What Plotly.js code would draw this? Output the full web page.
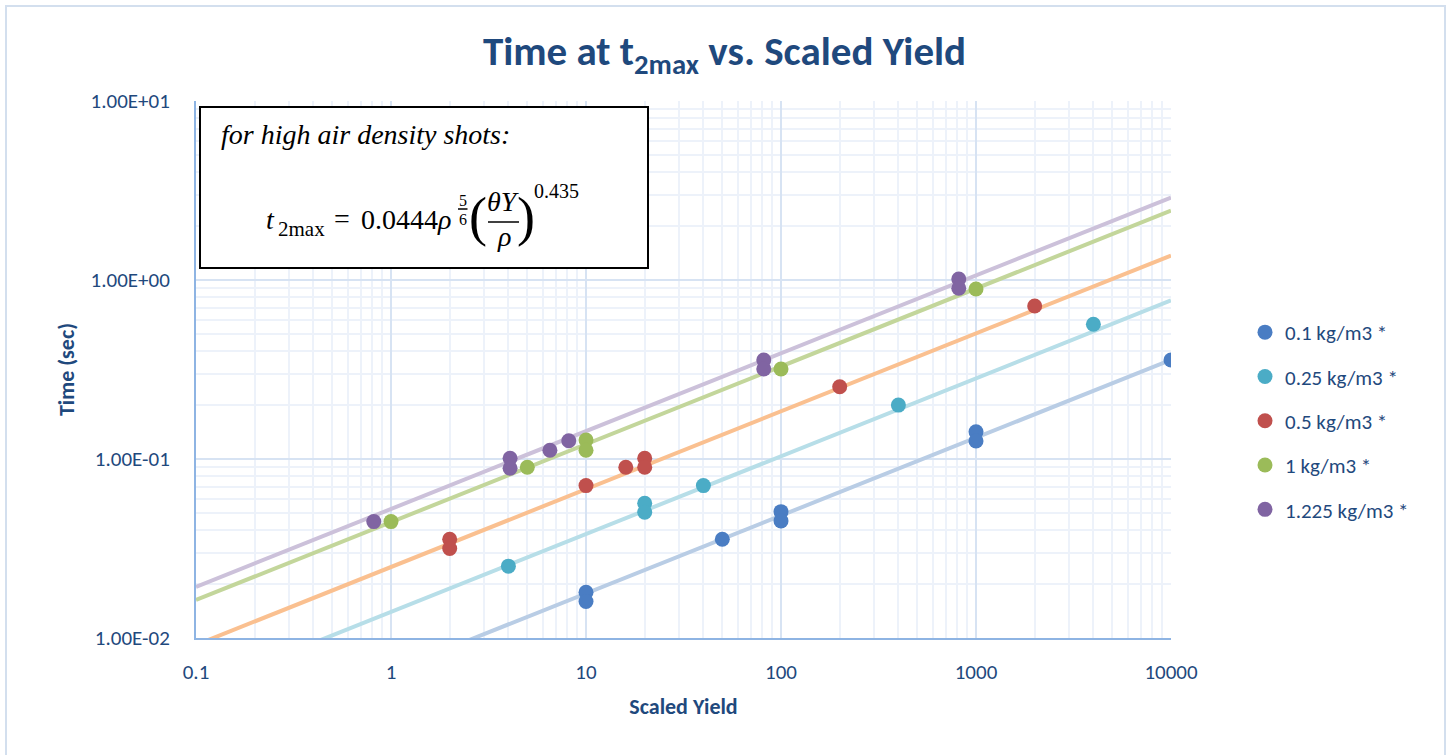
<!DOCTYPE html>
<html>
<head>
<meta charset="utf-8">
<script src="https://cdn.plot.ly/plotly-3.0.1.min.js"></script>
<style>
  html, body { margin: 0; padding: 0; background: #ffffff; }
  #chart { width: 1449px; height: 755px; }
</style>
</head>
<body>
<div id="chart"></div>
<script>
// ---------------- data ----------------
const seriesNames = ['0.1 kg/m3 *', '0.25 kg/m3 *', '0.5 kg/m3 *', '1 kg/m3 *', '1.225 kg/m3 *'];
const densities   = [0.1, 0.25, 0.5, 1, 1.225];

const yield_01   = [10, 10, 50, 100, 100, 1000, 1000, 10000];
const time_01    = [0.018, 0.016, 0.0356, 0.0508, 0.0451, 0.142, 0.126, 0.357];

const yield_025  = [4, 20, 20, 40, 400, 4000];
const time_025   = [0.0252, 0.0566, 0.0504, 0.071, 0.2, 0.566];

const yield_05   = [2, 2, 10, 16, 20, 20, 200, 2000];
const time_05    = [0.0356, 0.0316, 0.071, 0.0899, 0.101, 0.0899, 0.2535, 0.716];

const yield_1    = [1, 5, 10, 10, 100, 1000];
const time_1     = [0.0447, 0.0899, 0.1277, 0.112, 0.318, 0.891];

const yield_1225 = [0.816, 4.08, 4.08, 6.53, 8.16, 81.6, 81.6, 816, 816];
const time_1225  = [0.0447, 0.101, 0.0887, 0.112, 0.1265, 0.357, 0.318, 1.013, 0.90];

// trend-line model printed in the chart: t = 0.0444 * rho^(5/6) * X^0.435
const fitCoef = 0.0444;
const fitDensityExp = 5 / 6;
const fitYieldExp = 0.435;
const fitRange = [0.1, 10000];

const xTickVals = [0.1, 1, 10, 100, 1000, 10000];
const xTickText = ['0.1', '1', '10', '100', '1000', '10000'];
const yTickVals = [0.01, 0.1, 1, 10];
const yTickText = ['1.00E-02', '1.00E-01', '1.00E+00', '1.00E+01'];

// ---------------- styles ----------------
const markerColors = ['#4A7DC3', '#4BACC6', '#C0504D', '#9BBB59', '#8064A2'];
const lineColors   = ['#B9CDE5', '#B7DEE8', '#FAC090', '#C3D69B', '#CCC1DA'];
const textColor = '#1F497D';
const FONT = 'Carlito, Lato, "Open Sans", sans-serif';
const SERIF = '"Liberation Serif", "DejaVu Serif", serif';

const xs = [yield_01, yield_025, yield_05, yield_1, yield_1225];
const ys = [time_01, time_025, time_05, time_1, time_1225];

const traces = [];
// trend lines first (drawn beneath the markers)
densities.forEach((rho, i) => {
  traces.push({
    type: 'scatter', mode: 'lines',
    x: fitRange.slice(),
    y: fitRange.map(X => fitCoef * Math.pow(rho, fitDensityExp) * Math.pow(X, fitYieldExp)),
    line: { color: lineColors[i], width: 4 },
    showlegend: false, hoverinfo: 'skip'
  });
});
densities.forEach((rho, i) => {
  traces.push({
    type: 'scatter', mode: 'markers',
    name: seriesNames[i],
    legendgroup: 'g' + i,
    x: xs[i], y: ys[i],
    marker: { color: markerColors[i], size: 15, line: { width: 0 } }
  });
});

// minor gridline positions (2..9 in every decade)
function minorVals(lo, hi) {
  const out = [];
  for (let e = lo; e < hi; e++) for (let m = 2; m <= 9; m++) out.push(m * Math.pow(10, e));
  return out;
}

// pixel -> paper helpers for the annotation box
const PL = 196, PR = 1171, PT = 101, PB = 638;
const px = v => (v - PL) / (PR - PL);
const py = v => (PB - v) / (PB - PT);

function txt(text, x, y, size, opts) {
  return Object.assign({
    text: text, xref: 'paper', yref: 'paper', x: px(x), y: py(y),
    xanchor: 'left', yanchor: 'middle', showarrow: false,
    font: { family: SERIF, size: size, color: '#000000' }
  }, opts || {});
}

const annotations = [
  txt('<i>for high air density shots:</i>', 219, 134, 28),
  txt('<i>t</i>', 264, 219, 28),
  txt('2max', 276, 229, 21),
  txt('=', 332, 218, 28),
  txt('0.0444<i>ρ</i>', 359, 219, 28),
  txt('5', 462.5, 200, 16, { xanchor: 'center' }),
  txt('6', 462.5, 219, 16, { xanchor: 'center' }),
  txt('(', 478, 217, 54, { xanchor: 'center' }),
  txt('<i>θY</i>', 503.5, 201, 28, { xanchor: 'center' }),
  txt('<i>ρ</i>', 504, 237, 28, { xanchor: 'center' }),
  txt(')', 526, 217, 54, { xanchor: 'center' }),
  txt('0.435', 532, 191, 20)
];

const shapes = [
  // outer chart frame
  { type: 'rect', xref: 'paper', yref: 'paper', x0: px(6), x1: px(1445), y0: py(6), y1: py(770),
    line: { color: '#D3DFEE', width: 2 }, fillcolor: 'rgba(0,0,0,0)', layer: 'below' },
  // equation box
  { type: 'rect', xref: 'paper', yref: 'paper', x0: px(200), x1: px(648), y0: py(107), y1: py(268),
    line: { color: '#000000', width: 2 }, fillcolor: '#FFFFFF', layer: 'above' },
  // fraction bars
  { type: 'line', xref: 'paper', yref: 'paper', x0: px(458), x1: px(467.5), y0: py(209), y1: py(209),
    line: { color: '#000000', width: 1.5 } },
  { type: 'line', xref: 'paper', yref: 'paper', x0: px(488), x1: px(519), y0: py(222), y1: py(222),
    line: { color: '#000000', width: 1.5 } }
];

const layout = {
  width: 1449, height: 755,
  margin: { l: PL, r: 1449 - PR, t: PT, b: 755 - PB, pad: 0 },
  paper_bgcolor: '#FFFFFF', plot_bgcolor: '#FFFFFF',
  font: { family: FONT, color: textColor, size: 21 },
  title: {
    text: '<b>Time at t<sub>2max</sub> vs. Scaled Yield</b>',
    x: 0.5, xref: 'container', xanchor: 'center',
    y: 1 - 51 / 755, yref: 'container', yanchor: 'middle',
    font: { family: FONT, size: 41, color: textColor }
  },
  xaxis: {
    type: 'log', range: [-1, 4],
    tickvals: xTickVals, ticktext: xTickText,
    ticks: '', ticklabelstandoff: 14,
    tickfont: { size: 21, color: textColor },
    showgrid: true, gridcolor: '#D7E3F3', gridwidth: 2,
    minor: { tickvals: minorVals(-1, 4), showgrid: true, gridcolor: '#EDF2FA', gridwidth: 2, ticks: '' },
    showline: true, linecolor: '#8EB4E3', linewidth: 2, mirror: false,
    zeroline: false,
    title: { text: '<b>Scaled Yield</b>', standoff: 14, font: { size: 22, color: textColor } }
  },
  yaxis: {
    type: 'log', range: [-2, 1],
    tickvals: yTickVals, ticktext: yTickText,
    ticks: '', ticklabelstandoff: 20,
    tickfont: { size: 21, color: textColor },
    showgrid: true, gridcolor: '#D7E3F3', gridwidth: 2,
    minor: { tickvals: minorVals(-2, 1), showgrid: true, gridcolor: '#EDF2FA', gridwidth: 2, ticks: '' },
    showline: true, linecolor: '#8EB4E3', linewidth: 2, mirror: false,
    zeroline: false,
    title: { text: '<b>Time (sec)</b>', standoff: 10, font: { size: 22, color: textColor } }
  },
  legend: {
    xref: 'container', yref: 'container',
    x: 1245 / 1449, y: 1 - 312 / 755, xanchor: 'left', yanchor: 'top',
    font: { size: 21, color: textColor },
    bgcolor: 'rgba(0,0,0,0)', borderwidth: 0,
    tracegroupgap: 14, itemwidth: 30
  },
  showlegend: true,
  annotations: annotations,
  shapes: shapes
};

Plotly.newPlot('chart', traces, layout, { displayModeBar: false, staticPlot: true });
</script>
</body>
</html>
